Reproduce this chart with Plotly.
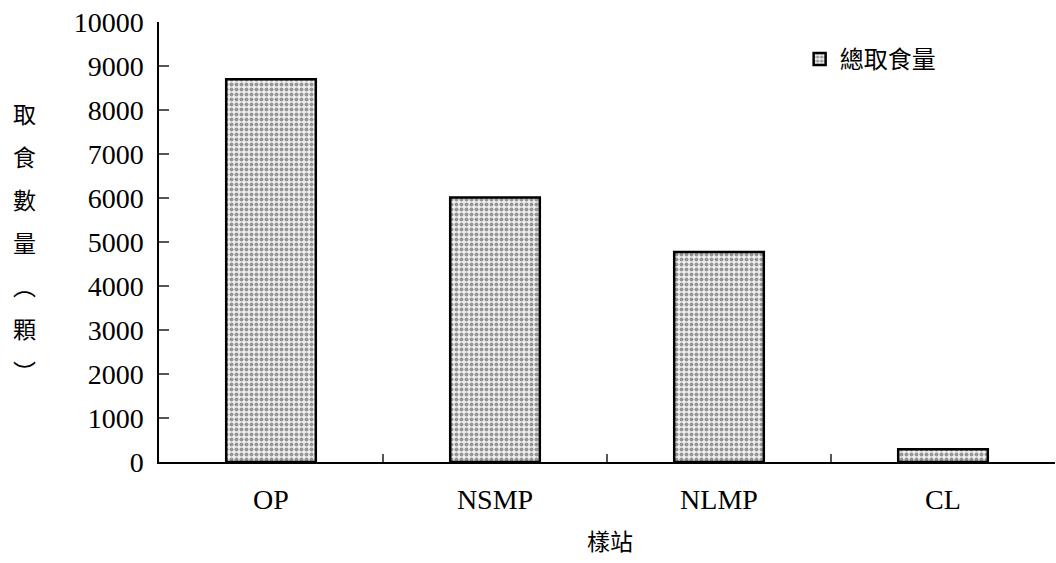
import plotly.graph_objects as go

# Sampling stations and total food items taken at each
stations = ["OP", "NSMP", "NLMP", "CL"]
total_taken = [8700, 6010, 4770, 290]

series_name = "總取食量"
y_title_chars = ["取", "食", "數", "量", "︵", "顆", "︶"]
x_title = "樣站"
y_ticks = [0, 1000, 2000, 3000, 4000, 5000, 6000, 7000, 8000, 9000, 10000]

serif = "Liberation Serif, Times New Roman, serif"
cjk = "Noto Sans CJK TC, Noto Sans CJK SC, sans-serif"

fig = go.Figure()
fig.add_trace(go.Bar(
    x=stations,
    y=total_taken,
    name=series_name,
    width=0.4,
    marker=dict(
        color="#e6e6e6",
        line=dict(color="black", width=2.5),
        pattern=dict(shape=".", size=5, solidity=0.5,
                     fgcolor="#3c3c3c", bgcolor="#f0f0f0"),
    ),
))

fig.update_layout(
    width=1056, height=563,
    margin=dict(l=159, r=1, t=22, b=101),
    paper_bgcolor="white", plot_bgcolor="white",
    showlegend=True,
    legend=dict(x=0.715, y=0.915, xanchor="left", yanchor="middle",
                font=dict(family=cjk, size=24, color="black"),
                bgcolor="rgba(0,0,0,0)", itemwidth=30),
    font=dict(family=serif, color="black"),
)

fig.update_xaxes(
    type="category",
    showline=True, linecolor="black", linewidth=1.5,
    ticks="inside", ticklen=8, tickcolor="#555", tickwidth=1.5,
    tickson="boundaries",
    tickfont=dict(family=serif, size=28, color="black"),
    ticklabelstandoff=12,
    showgrid=False, zeroline=False,
)
fig.update_yaxes(
    range=[0, 10000],
    tickvals=y_ticks,
    ticktext=[str(v) for v in y_ticks],
    showline=True, linecolor="black", linewidth=1.5,
    ticks="inside", ticklen=10, tickcolor="#555", tickwidth=1.5,
    tickfont=dict(family=serif, size=28, color="black"),
    ticklabelstandoff=8,
    showgrid=False, zeroline=False,
)

# Vertical stacked y-axis title
for i, ch in enumerate(y_title_chars):
    fig.add_annotation(
        xref="paper", yref="paper",
        x=-0.150, y=(462 - 113 - i * 43) / 440,
        text=ch, showarrow=False,
        xanchor="center", yanchor="middle",
        font=dict(family=cjk, size=23, color="black"),
    )

fig.add_annotation(
    xref="paper", yref="paper",
    x=0.503, y=-(540 - 462) / 440,
    text=x_title, showarrow=False,
    xanchor="center", yanchor="middle",
    font=dict(family=cjk, size=23, color="black"),
)

fig.write_html("out.html")
